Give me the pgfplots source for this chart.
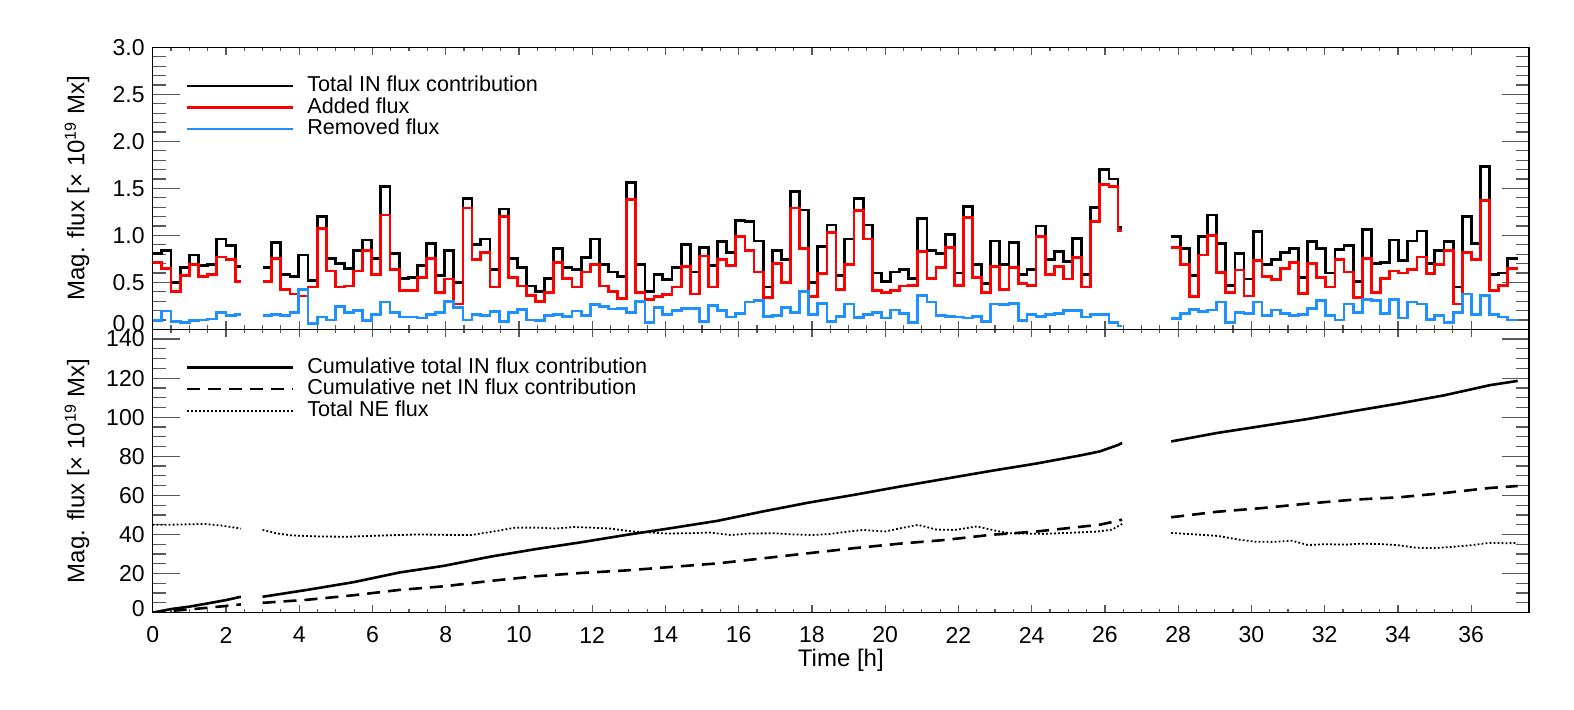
\documentclass[border=0pt]{standalone}
\usepackage{pgfplots}
\pgfplotsset{compat=1.18}
\usepackage{fontspec}
\setmainfont{Liberation Sans}
\definecolor{idlred}{RGB}{255,0,0}
\definecolor{idlblue}{RGB}{30,144,255}

% binned flux per time step (step start times), nan rows = data gaps
\pgfplotstableread{
t tot add rem
0.00 0.81 0.71 0.09
0.25 0.84 0.645 0.195
0.50 0.50 0.40 0.085
0.75 0.66 0.57 0.07
1.00 0.79 0.69 0.095
1.25 0.68 0.56 0.10
1.50 0.69 0.58 0.11
1.75 0.96 0.77 0.18
2.00 0.89 0.74 0.15
2.25 0.67 0.51 0.155
2.41 0.67 0.51 0.155
2.70 nan nan nan
3.00 0.66 0.51 0.15
3.25 0.92 0.755 0.16
3.50 0.58 0.42 0.15
3.75 0.56 0.375 0.18
3.99 0.79 0.355 0.425
4.24 0.52 0.45 0.065
4.49 1.20 1.07 0.13
4.74 0.75 0.62 0.10
4.99 0.70 0.45 0.24
5.24 0.65 0.46 0.18
5.49 0.84 0.62 0.20
5.73 0.95 0.84 0.095
5.98 0.75 0.58 0.155
6.23 1.52 1.215 0.29
6.48 0.81 0.64 0.18
6.73 0.54 0.41 0.13
6.98 0.55 0.41 0.13
7.22 0.68 0.55 0.12
7.47 0.91 0.755 0.16
7.72 0.57 0.39 0.18
7.97 0.84 0.535 0.30
8.22 0.50 0.27 0.23
8.47 1.39 1.29 0.10
8.72 0.90 0.74 0.16
8.96 0.96 0.82 0.145
9.21 0.64 0.45 0.19
9.46 1.28 1.20 0.08
9.71 0.75 0.55 0.18
9.96 0.66 0.46 0.21
10.21 0.46 0.36 0.10
10.46 0.40 0.30 0.095
10.70 0.54 0.39 0.145
10.95 0.86 0.71 0.155
11.20 0.66 0.54 0.135
11.45 0.64 0.45 0.195
11.70 0.765 0.61 0.15
11.95 0.96 0.69 0.26
12.19 0.69 0.46 0.24
12.44 0.61 0.40 0.215
12.69 0.56 0.33 0.22
12.94 1.56 1.38 0.18
13.19 0.69 0.39 0.30
13.44 0.40 0.32 0.075
13.69 0.585 0.35 0.23
13.93 0.53 0.37 0.16
14.18 0.655 0.45 0.20
14.43 0.90 0.67 0.22
14.68 0.61 0.375 0.22
14.93 0.87 0.78 0.08
15.18 0.68 0.45 0.25
15.43 0.93 0.74 0.20
15.67 0.815 0.68 0.13
15.92 1.16 0.99 0.17
16.17 1.145 0.84 0.29
16.42 0.94 0.61 0.31
16.67 0.45 0.34 0.135
16.92 0.84 0.70 0.145
17.16 0.74 0.50 0.23
17.41 1.47 1.29 0.18
17.66 1.27 0.86 0.40
17.91 0.50 0.35 0.16
18.16 0.88 0.59 0.275
18.41 1.11 1.03 0.08
18.66 0.57 0.425 0.14
18.90 0.96 0.69 0.27
19.15 1.39 1.26 0.125
19.40 1.11 0.96 0.16
19.65 0.60 0.41 0.18
19.90 0.51 0.39 0.12
20.15 0.61 0.41 0.205
20.40 0.64 0.46 0.17
20.64 0.54 0.47 0.07
20.89 1.18 0.83 0.36
21.14 0.84 0.54 0.29
21.39 0.81 0.66 0.15
21.64 1.01 0.87 0.14
21.89 0.60 0.47 0.13
22.13 1.31 1.19 0.12
22.38 0.69 0.55 0.14
22.63 0.49 0.39 0.08
22.88 0.94 0.67 0.27
23.13 0.69 0.425 0.26
23.38 0.92 0.66 0.275
23.63 0.585 0.49 0.09
23.87 0.64 0.47 0.16
24.12 1.10 0.985 0.135
24.37 0.745 0.58 0.16
24.62 0.83 0.67 0.17
24.87 0.725 0.535 0.20
25.12 0.97 0.76 0.20
25.37 0.585 0.45 0.13
25.61 1.30 1.145 0.155
25.86 1.70 1.54 0.16
26.11 1.60 1.515 0.075
26.36 1.085 1.055 0.035
26.47 1.085 1.055 0.035
27.10 nan nan nan
27.81 0.99 0.87 0.115
28.06 0.86 0.69 0.17
28.31 0.57 0.35 0.21
28.56 0.99 0.79 0.19
28.80 1.215 1.00 0.205
29.05 0.91 0.605 0.29
29.30 0.47 0.39 0.075
29.55 0.81 0.63 0.18
29.80 0.535 0.355 0.17
30.05 1.04 0.73 0.29
30.29 0.69 0.56 0.145
30.54 0.74 0.53 0.205
30.79 0.815 0.65 0.17
31.04 0.86 0.71 0.145
31.29 0.55 0.38 0.16
31.54 0.93 0.70 0.22
31.78 0.86 0.55 0.31
32.03 0.60 0.45 0.145
32.28 0.85 0.74 0.10
32.53 0.89 0.61 0.27
32.78 0.51 0.335 0.18
33.03 1.065 0.75 0.32
33.27 0.70 0.39 0.305
33.52 0.71 0.54 0.17
33.77 0.95 0.62 0.32
34.02 0.73 0.60 0.12
34.27 0.94 0.64 0.29
34.52 1.045 0.77 0.27
34.77 0.70 0.595 0.105
35.01 0.84 0.69 0.145
35.26 0.93 0.84 0.075
35.51 0.45 0.27 0.18
35.76 1.20 0.82 0.375
36.01 0.91 0.745 0.16
36.26 1.73 1.37 0.36
36.50 0.58 0.41 0.16
36.75 0.60 0.47 0.13
37.00 0.75 0.65 0.10
37.27 0.75 0.65 0.10
}\fluxbins

% cumulative curves
\pgfplotstableread{
t cumtot cumnet
0.00 0.00 0.00
0.50 1.80 0.90
1.00 3.05 1.60
1.50 4.70 2.50
2.00 6.40 3.40
2.41 8.10 4.20
2.70 nan nan
3.00 8.10 5.00
4.24 11.70 6.60
5.49 15.60 8.90
6.73 20.50 11.60
7.97 24.00 13.50
9.21 28.60 16.20
10.46 32.50 18.60
11.70 36.00 20.30
12.94 39.80 21.60
14.18 43.30 23.40
15.43 47.00 25.20
16.67 51.80 27.80
17.91 56.30 30.40
19.16 60.30 33.00
20.40 64.50 35.30
21.64 68.50 37.20
22.88 72.50 39.80
24.13 76.30 41.50
25.37 80.60 44.00
25.86 82.50 45.00
26.36 85.80 47.00
26.47 86.80 47.60
27.10 nan nan
27.81 87.60 48.80
29.05 91.90 51.60
30.29 95.50 53.50
31.54 99.10 55.80
32.78 103.10 57.80
34.02 107.00 59.00
35.26 111.20 61.20
36.51 116.40 63.80
37.27 118.60 64.80
}\cumflux

\pgfplotstableread{
t ne
0.00 45.0
0.50 45.0
1.00 45.2
1.40 45.4
1.90 44.5
2.41 43.0
2.70 nan
3.00 42.3
3.40 40.5
3.80 39.5
4.50 39.0
5.30 38.8
6.00 39.3
7.20 40.0
8.00 39.8
8.70 39.7
9.30 41.5
9.90 43.5
10.50 43.5
11.00 43.0
11.50 43.8
12.00 43.5
12.50 43.0
13.10 41.5
13.60 41.0
14.00 40.5
14.60 40.6
15.20 41.0
15.80 39.7
16.30 40.5
17.00 40.6
17.50 40.0
18.00 39.7
18.50 40.3
19.00 41.5
19.40 42.3
20.00 41.5
20.50 43.5
20.90 44.9
21.40 42.5
21.90 42.3
22.50 44.1
23.00 42.0
23.40 40.6
24.30 40.3
25.00 40.8
25.80 41.5
26.20 42.5
26.47 45.4
27.10 nan
27.81 40.8
28.50 40.0
29.10 39.2
29.60 37.5
30.10 36.3
30.60 36.2
31.10 36.8
31.55 34.6
32.00 35.0
32.60 34.8
33.00 35.3
33.50 35.1
34.00 34.5
34.50 33.2
35.00 33.0
35.50 33.7
36.00 34.5
36.50 35.7
37.00 35.5
37.27 35.7
}\neflux

\newcommand{\tickfont}{\fontsize{11.5}{13}\selectfont}
\newcommand{\labfont}{\fontsize{12}{14}\selectfont}

\pgfplotsset{
  panel/.style={
    scale only axis, width=688.15pt,
    xmin=0, xmax=37.58,
    unbounded coords=jump,
    axis line style={black, line width=0.6pt},
    tick style={black!65, line width=0.6pt},
    tick align=inside,
    xtick={0,2,...,36}, minor x tick num=3,
    xtick style={/pgfplots/major tick length=4pt, /pgfplots/minor tick length=2pt},
    ytick style={/pgfplots/major tick length=13.5pt, /pgfplots/minor tick length=6.5pt},
    /pgf/number format/assume math mode=true,
    xticklabel style={font=\tickfont, anchor=center, yshift=-11.2pt},
    yticklabel style={font=\tickfont, anchor=east, inner sep=0pt, xshift=-3.85pt},
    every axis y label/.style={at={(axis description cs:-0.055,0.5)}, rotate=90, anchor=center, font=\labfont},
    every axis x label/.style={at={(axis description cs:0.5,0)}, anchor=center, yshift=-23.7pt, font=\labfont},
  },
}
\tikzset{leg/.style={anchor=base west, inner sep=0pt, font=\fontsize{10.8}{13}\selectfont}}

\begin{document}
\begin{tikzpicture}
\useasboundingbox (-76.35pt,-48.2pt) rectangle (710.65pt,306.3pt);

% lower panel: cumulative fluxes
\begin{axis}[panel, at={(0,0)}, anchor=south west, height=141.65pt,
  ymin=0, ymax=145,
  ytick={0,20,40,60,80,100,120,140}, minor y tick num=3,
  yticklabels={\raisebox{4pt}{0},20,40,60,80,100,120,140},
  xlabel={Time [h]},
  ylabel={Mag. flux [\texttimes\ 10\textsuperscript{19} Mx]}]
\addplot[black, line width=1.3pt] table[x=t, y=cumtot] {\cumflux};
\addplot[black, line width=1.3pt, dash pattern=on 6.5pt off 4pt] table[x=t, y=cumnet] {\cumflux};
\addplot[black, line width=0.9pt, dash pattern=on 0.9pt off 1.1pt] table[x=t, y=ne] {\neflux};
\draw[black, line width=1.3pt] (axis description cs:0.0249,0.8645) -- (axis description cs:0.1019,0.8645);
\draw[black, line width=1.3pt, dash pattern=on 6.5pt off 4pt] (axis description cs:0.0249,0.7886) -- (axis description cs:0.1019,0.7886);
\draw[black, line width=0.9pt, dash pattern=on 0.9pt off 1.1pt] (axis description cs:0.0249,0.7127) -- (axis description cs:0.1019,0.7127);
\node[leg] at (axis description cs:0.1121,0.8443) {Cumulative total IN flux contribution};
\node[leg] at (axis description cs:0.1121,0.7684) {Cumulative net IN flux contribution};
\node[leg] at (axis description cs:0.1121,0.6925) {Total NE flux};
\end{axis}

% upper panel: binned fluxes
\begin{axis}[panel, at={(0,141.65pt)}, anchor=south west, height=141pt,
  ymin=0, ymax=3,
  ytick={0,0.5,1,1.5,2,2.5,3}, minor y tick num=4,
  yticklabels={\raisebox{5.5pt}{0.0},0.5,1.0,1.5,2.0,2.5,3.0},
  xticklabels={},
  ylabel={Mag. flux [\texttimes\ 10\textsuperscript{19} Mx]}]
\addplot[black, line width=1.4pt, const plot] table[x=t, y=tot] {\fluxbins};
\addplot[idlred, line width=1.4pt, const plot] table[x=t, y=add] {\fluxbins};
\addplot[idlblue, line width=1.4pt, const plot] table[x=t, y=rem] {\fluxbins};
\draw[black, line width=1.4pt] (axis description cs:0.0249,0.8628) -- (axis description cs:0.1019,0.8628);
\draw[idlred, line width=1.4pt] (axis description cs:0.0249,0.7865) -- (axis description cs:0.1019,0.7865);
\draw[idlblue, line width=1.4pt] (axis description cs:0.0249,0.7103) -- (axis description cs:0.1019,0.7103);
\node[leg] at (axis description cs:0.1121,0.8426) {Total IN flux contribution};
\node[leg] at (axis description cs:0.1121,0.7663) {Added flux};
\node[leg] at (axis description cs:0.1121,0.6901) {Removed flux};
\end{axis}
\end{tikzpicture}
\end{document}
